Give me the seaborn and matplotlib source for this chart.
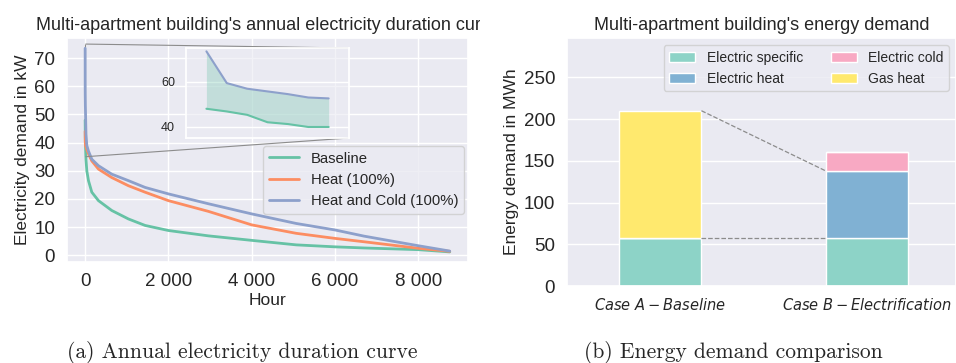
import numpy as np
import pandas as pd
import matplotlib
matplotlib.use("Agg")
import matplotlib.pyplot as plt
import seaborn as sns
from matplotlib.ticker import FuncFormatter, MultipleLocator
from matplotlib.transforms import Bbox, TransformedBbox
from mpl_toolkits.axes_grid1.inset_locator import mark_inset

# ---- (a) annual electricity duration curve: demand sorted by rank (hour) ----
hours = [0, 1, 2, 3, 4, 5, 6, 20, 40, 80, 160, 320, 640, 1040, 1440, 2000,
         2960, 4000, 5070, 6000, 6700, 8000, 8759]
baseline = [48.0, 46.8, 45.3, 42.0, 41.2, 39.9, 39.9, 34.0, 30.0, 26.5, 22.4,
            19.4, 15.9, 12.9, 10.6, 8.8, 6.9, 5.3, 3.7, 3.0, 2.6, 2.0, 1.2]
heat = [44.0, 42.5, 41.5, 40.5, 40.0, 39.5, 39.0, 38.5, 37.5, 36.0, 33.5,
        30.6, 27.6, 24.7, 22.4, 19.4, 15.6, 10.8, 7.8, 6.0, 4.8, 2.5, 1.4]
heat_cold = [73.5, 59.4, 56.9, 55.7, 54.5, 53.0, 52.6, 43.0, 39.0, 37.0, 34.1,
             31.8, 28.8, 26.5, 24.1, 21.8, 18.3, 14.7, 11.3, 9.0, 6.8, 3.4, 1.5]
scenarios = ["Baseline", "Heat (100%)", "Heat and Cold (100%)"]
n_peak = 7  # peak hours shown in the zoomed inset

# ---- (b) energy demand per case, in MWh ----
cases = [r"$Case\ A - Baseline$", r"$Case\ B - Electrification$"]
electric_specific = [58, 58]
electric_heat = [0, 80]
electric_cold = [0, 22]
gas_heat = [152, 0]
segment_names = ["Electric specific", "Electric heat", "Electric cold", "Gas heat"]

line_colors = ["#66c2a5", "#fc8d62", "#8da0cb"]
bar_colors = ["#8dd3c7", "#80b1d3", "#f8a9c3", "#ffe96e"]

sns.set_theme(style="darkgrid")
plt.rcParams["font.family"] = ["Liberation Sans", "DejaVu Sans"]

fig = plt.figure(figsize=(9.56, 3.63), dpi=100)
ax1 = fig.add_axes([0.070, 0.278, 0.4195, 0.617])
ax2 = fig.add_axes([0.593, 0.212, 0.407, 0.683])

# ---------------- left panel ----------------
curves = pd.DataFrame({"Hour": hours * 3,
                       "Demand": baseline + heat + heat_cold,
                       "Scenario": np.repeat(scenarios, len(hours))})
for name, col in zip(scenarios, line_colors):
    sub = curves[curves["Scenario"] == name]
    sns.lineplot(data=sub, x="Hour", y="Demand", color=col, lw=2,
                 label=name, ax=ax1)

ax1.set_xticks([0, 2000, 4000, 6000, 8000])
ax1.xaxis.set_major_formatter(FuncFormatter(lambda v, p: f"{v:,.0f}".replace(",", " ")))
ax1.yaxis.set_major_locator(MultipleLocator(10))
ax1.tick_params(axis="both", labelsize=13.5)
ax1.tick_params(axis="x", pad=2)
ax1.tick_params(axis="y", pad=2.5)
ax1.set_xlabel("Hour", fontsize=12.5, labelpad=2)
ax1.set_ylabel("Electricity demand in kW", fontsize=12.5, labelpad=3)
t1 = ax1.set_title("Multi-apartment building's annual electricity duration curve",
                   fontsize=13)
t1.set_clip_box(TransformedBbox(Bbox([[0, 0], [480 / 956, 1]]), fig.transFigure))
t1.set_clip_on(True)
ax1.legend(loc="upper right", bbox_to_anchor=(0.99, 0.52), borderaxespad=0,
           fontsize=10.7)

# zoom on the first hours of the curve
axins = fig.add_axes([0.1946, 0.6198, 0.1705, 0.248])
axins.set_facecolor((0.918, 0.918, 0.949, 0.6))
axins.plot(hours[:n_peak], heat_cold[:n_peak], color=line_colors[2], lw=1.5)
axins.plot(hours[:n_peak], baseline[:n_peak], color=line_colors[0], lw=1.5)
axins.fill_between(hours[:n_peak], baseline[:n_peak], heat_cold[:n_peak],
                   color=line_colors[0], alpha=0.3, lw=0)
axins.set_xlim(-1, 7)
axins.set_ylim(35, 75)
axins.set_xticks([])
axins.set_yticks([40, 60])
axins.tick_params(axis="y", labelsize=9, pad=2)
axins.set_xlabel("")
axins.set_ylabel("")
mark_inset(ax1, axins, loc1=1, loc2=4, fc="none", ec="0.55", lw=0.8)

# ---------------- right panel ----------------
segments = [electric_specific, electric_heat, electric_cold, gas_heat]
bottom = np.zeros(len(cases))
for name, vals, col in zip(segment_names, segments, bar_colors):
    sns.barplot(x=cases, y=vals, bottom=bottom, color=col, saturation=1,
                width=0.4, edgecolor="white", linewidth=1, label=name, ax=ax2)
    bottom = bottom + np.array(vals)

half = 0.2
total_a = sum(s[0] for s in segments)
heat_top_b = electric_specific[1] + electric_heat[1]
ax2.plot([0 + half, 1 - half], [total_a, heat_top_b], ls="--", color="0.55",
         lw=0.9, zorder=1)
ax2.plot([0 + half, 1 - half], [electric_specific[0], electric_specific[1]],
         ls="--", color="0.55", lw=0.9, zorder=1)

ax2.set_xlim(-0.45, 1.43)
ax2.set_ylim(0, 297)
ax2.yaxis.set_major_locator(MultipleLocator(50))
ax2.tick_params(axis="y", labelsize=13.5, pad=2.5)
ax2.tick_params(axis="x", labelsize=10.5, pad=2)
ax2.set_ylabel("Energy demand in MWh", fontsize=12.5, labelpad=3)
ax2.set_title("Multi-apartment building's energy demand", fontsize=13)
ax2.legend(ncol=2, loc="upper right", fontsize=10, columnspacing=2.0,
           handlelength=1.9)

# subfigure captions
fig.text(242 / 956, 1 - 352 / 363, "(a) Annual electricity duration curve",
         fontfamily="cmr10", fontsize=15.5, ha="center", va="center")
fig.text(733 / 956, 1 - 352 / 363, "(b) Energy demand comparison",
         fontfamily="cmr10", fontsize=15.5, ha="center", va="center")

fig.savefig("out.png", dpi=100)
